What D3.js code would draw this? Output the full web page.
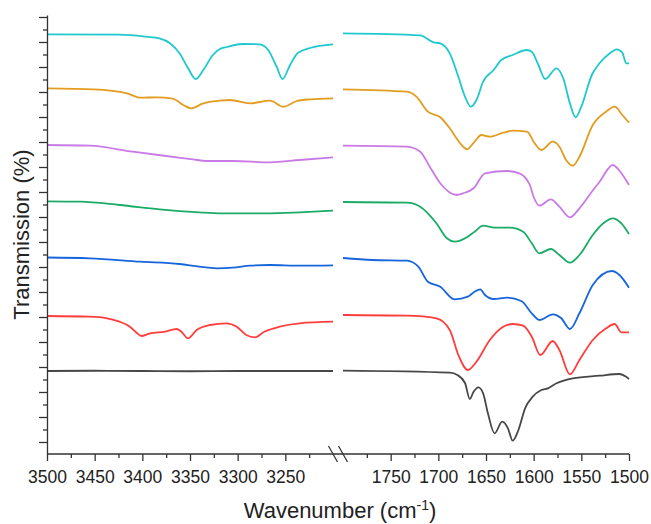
<!DOCTYPE html>
<html>
<head>
<meta charset="utf-8">
<script src="https://cdn.jsdelivr.net/npm/d3@7"></script>
<style>
  body { margin: 0; background: #fff; }
  text { font-family: Arial, "Liberation Sans", sans-serif; fill: #222; }
</style>
</head>
<body>
<div id="chart"></div>
<script>
// Spectra: [wavenumber (cm-1), transmission (offset, a.u.)]
// high-wavenumber window 3500-3200, low window 1800-1500
const cyanHigh = [[3500,81.54],[3424,81.46],[3396,81.06],[3382,80.74],[3371,79.74],[3361,77.74],[3352,74.74],[3344,72.6],[3336,74.4],[3326,77.4],[3319,78.54],[3311,79.0],[3295,79.6],[3277,79.54],[3268,78.4],[3259,75.0],[3253,72.6],[3245,75.4],[3237,77.8],[3224,78.8],[3200,79.54]];
const cyanLow = [[1800,81.74],[1719,81.34],[1705,79.94],[1698,79.74],[1688,77.74],[1679,73.06],[1672,69.06],[1666,67.06],[1660,68.4],[1653,72.06],[1642,74.4],[1634,76.4],[1622,77.4],[1607,78.4],[1602,78.06],[1595,75.4],[1588,72.6],[1576,74.74],[1569,72.74],[1562,67.74],[1556,64.94],[1550,67.06],[1539,73.4],[1531,75.74],[1520,77.74],[1513,78.54],[1507,77.86],[1503,75.74],[1500,75.74]];

const orangeHigh = [[3500,70.74],[3451,70.54],[3416,69.74],[3402,68.86],[3385,68.94],[3368,68.66],[3357,67.4],[3349,66.74],[3336,67.74],[3319,68.26],[3308,68.4],[3287,67.74],[3266,68.26],[3252,67.06],[3238,68.2],[3224,68.54],[3200,68.74]];
const orangeLow = [[1800,70.54],[1733,70.06],[1723,69.06],[1711,66.06],[1698,64.94],[1688,62.74],[1677,59.74],[1670,58.54],[1662,60.06],[1655,61.4],[1646,61.06],[1632,61.86],[1622,62.26],[1607,62.06],[1599,59.74],[1592,58.4],[1580,60.06],[1573,59.06],[1566,56.4],[1559,55.26],[1552,57.06],[1538,63.4],[1524,66.06],[1515,67.06],[1507,65.4],[1500,63.86]];

const violetHigh = [[3500,59.4],[3455,59.26],[3410,58.06],[3375,57.2],[3347,56.54],[3333,56.2],[3305,56.2],[3266,55.94],[3235,56.4],[3200,56.94]];
const violetLow = [[1800,59.26],[1733,59.06],[1719,58.06],[1709,55.06],[1698,51.74],[1681,49.4],[1674,49.74],[1663,50.74],[1651,53.74],[1628,54.2],[1615,53.74],[1604,51.4],[1600,49.0],[1594,47.26],[1582,48.54],[1573,47.06],[1562,44.94],[1552,46.74],[1538,50.3],[1531,52.0],[1517,55.4],[1508,53.74],[1500,51.4]];

const greenHigh = [[3500,48.14],[3465,48.06],[3424,47.4],[3382,46.54],[3340,45.94],[3319,45.74],[3270,45.74],[3235,45.94],[3200,46.26]];
const greenLow = [[1800,48.0],[1733,47.86],[1719,47.06],[1702,43.74],[1691,40.74],[1683,40.06],[1670,40.94],[1662,42.06],[1653,43.26],[1641,42.86],[1625,42.86],[1611,42.06],[1602,39.74],[1594,37.74],[1582,38.6],[1573,37.4],[1562,35.86],[1552,37.4],[1538,41.4],[1527,43.74],[1517,44.74],[1508,43.74],[1500,41.6]];

const blueHigh = [[3500,36.9],[3455,36.74],[3402,36.06],[3361,35.6],[3340,35.06],[3322,34.74],[3305,34.86],[3287,35.26],[3266,35.4],[3235,35.26],[3200,35.34]];
const blueLow = [[1800,36.8],[1769,36.4],[1733,36.26],[1721,35.06],[1711,32.06],[1698,31.06],[1683,28.54],[1669,29.06],[1662,30.06],[1656,30.54],[1651,29.4],[1642,28.6],[1628,28.86],[1613,28.2],[1602,25.74],[1594,24.4],[1580,25.54],[1571,24.74],[1562,22.6],[1552,25.74],[1538,31.4],[1518,34.2],[1510,33.4],[1500,30.86]];

const redHigh = [[3500,25.2],[3455,25.06],[3437,24.74],[3424,24.06],[3413,23.06],[3406,21.86],[3401,21.2],[3392,21.74],[3376,22.06],[3364,22.6],[3359,22.06],[3352,20.74],[3343,22.4],[3329,23.4],[3312,23.74],[3301,23.06],[3291,21.4],[3282,20.94],[3272,22.06],[3256,23.06],[3235,23.74],[3200,24.06]];
const redLow = [[1800,25.4],[1733,25.26],[1702,24.74],[1688,22.4],[1679,17.4],[1669,14.4],[1660,16.06],[1646,20.4],[1632,23.06],[1622,23.6],[1611,23.26],[1602,21.06],[1593,17.4],[1580,20.2],[1573,18.4],[1562,13.54],[1552,16.4],[1538,20.4],[1524,22.74],[1515,23.6],[1508,21.94],[1500,21.94]];

const grayHigh = [[3500,14.2],[3450,14.25],[3400,14.2],[3350,14.15],[3300,14.2],[3250,14.2],[3200,14.2]];
const grayLow = [[1800,14.26],[1688,13.86],[1680,13.4],[1672,11.8],[1667,8.6],[1663,10.06],[1658,10.94],[1653,9.74],[1648,5.74],[1641,1.74],[1633,4.06],[1627,2.74],[1622,0.26],[1616,2.4],[1609,6.74],[1601,9.06],[1592,10.4],[1585,10.74],[1576,11.74],[1559,12.74],[1531,13.26],[1510,13.6],[1503,13.06],[1500,12.6]];

// tick labels
const highLabels = [3500, 3450, 3400, 3350, 3300, 3250];
const highMinor = [3475, 3425, 3375, 3325, 3275, 3225];
const lowLabels = [1750, 1700, 1650, 1600, 1550, 1500];
const lowMinor = [1775, 1725, 1675, 1625, 1575, 1525];

const series = [
  { high: cyanHigh, low: cyanLow, color: "#1ec9cd" },
  { high: orangeHigh, low: orangeLow, color: "#e29c1f" },
  { high: violetHigh, low: violetLow, color: "#c97ae6" },
  { high: greenHigh, low: greenLow, color: "#1aab66" },
  { high: blueHigh, low: blueLow, color: "#1665dc" },
  { high: redHigh, low: redLow, color: "#ff3d3d" },
  { high: grayHigh, low: grayLow, color: "#474747" }
];

const width = 651, height = 524;
const margin = { top: 15, left: 47, bottom: 70, right: 22 };
const plotBottom = height - margin.bottom;   // 454
const gap = 10;
const panelW = (width - margin.left - margin.right - gap) / 2;

const xHigh = d3.scaleLinear().domain([3500, 3200])
    .range([margin.left, margin.left + panelW]);
const xLow = d3.scaleLinear().domain([1800, 1500])
    .range([margin.left + panelW + gap, margin.left + 2 * panelW + gap]);
const y = d3.scaleLinear().domain([-2.4, 85.4]).range([plotBottom, margin.top]);

const svg = d3.select("#chart").append("svg")
    .attr("width", width)
    .attr("height", height);

// spectra
function drawLine(data, x, color) {
    const line = d3.line()
        .x(d => x(d[0]))
        .y(d => y(d[1]))
        .curve(d3.curveMonotoneX);
    svg.append("path")
        .datum(data)
        .attr("d", line)
        .attr("fill", "none")
        .attr("stroke", color)
        .attr("stroke-width", 1.8)
        .attr("stroke-linejoin", "round");
}
series.forEach(s => {
    drawLine(s.high, xHigh, s.color);
    drawLine(s.low, xLow, s.color);
});

// y axis (no labels)
const yAxis = svg.append("g").attr("transform", `translate(${margin.left},0)`);
yAxis.call(d3.axisLeft(y).tickValues(d3.range(0, 86, 5)).tickSize(8).tickSizeOuter(0).tickFormat(""));
yAxis.append("g").call(d3.axisLeft(y).tickValues(d3.range(2.5, 85, 5)).tickSize(4).tickFormat(""))
    .select(".domain").remove();

// x axis: one baseline, two windows
svg.append("line")
    .attr("x1", margin.left).attr("x2", xLow.range()[1])
    .attr("y1", plotBottom).attr("y2", plotBottom)
    .attr("stroke", "#333").attr("stroke-width", 1.3);

function xTicks(scale, major, minor) {
    const g = svg.append("g").attr("transform", `translate(0,${plotBottom})`);
    g.call(d3.axisBottom(scale).tickValues(major).tickSize(7).tickPadding(10).tickFormat(d3.format("d")));
    g.select(".domain").remove();
    const m = svg.append("g").attr("transform", `translate(0,${plotBottom})`);
    m.call(d3.axisBottom(scale).tickValues(minor).tickSize(4).tickFormat(""));
    m.select(".domain").remove();
}
xTicks(xHigh, highLabels, highMinor);
xTicks(xLow, lowLabels, lowMinor);

svg.selectAll(".tick line").attr("stroke", "#333").attr("stroke-width", 1.3);
svg.selectAll(".domain").attr("stroke", "#333").attr("stroke-width", 1.3);
svg.selectAll(".tick text").style("font-size", "17.5px").style("fill", "#222")
    .style("font-family", "Arial, 'Liberation Sans', sans-serif");

// axis break marks
const bx = (xHigh.range()[1] + xLow.range()[0]) / 2;
[-5, 5].forEach(off => {
    svg.append("line")
        .attr("x1", bx + off - 4.5).attr("y1", plotBottom - 8)
        .attr("x2", bx + off + 4.5).attr("y2", plotBottom + 8)
        .attr("stroke", "#333").attr("stroke-width", 1.3);
});

// axis titles
const xt = svg.append("text")
    .attr("x", bx + 2).attr("y", 518)
    .attr("text-anchor", "middle")
    .style("font-size", "22px");
xt.append("tspan").text("Wavenumber (cm");
xt.append("tspan").attr("dy", -8).style("font-size", "14px").text("-1");
xt.append("tspan").attr("dy", 8).text(")");

svg.append("text")
    .attr("transform", `translate(29,${(margin.top + plotBottom) / 2}) rotate(-90)`)
    .attr("text-anchor", "middle")
    .style("font-size", "22px")
    .text("Transmission (%)");
</script>
</body>
</html>
